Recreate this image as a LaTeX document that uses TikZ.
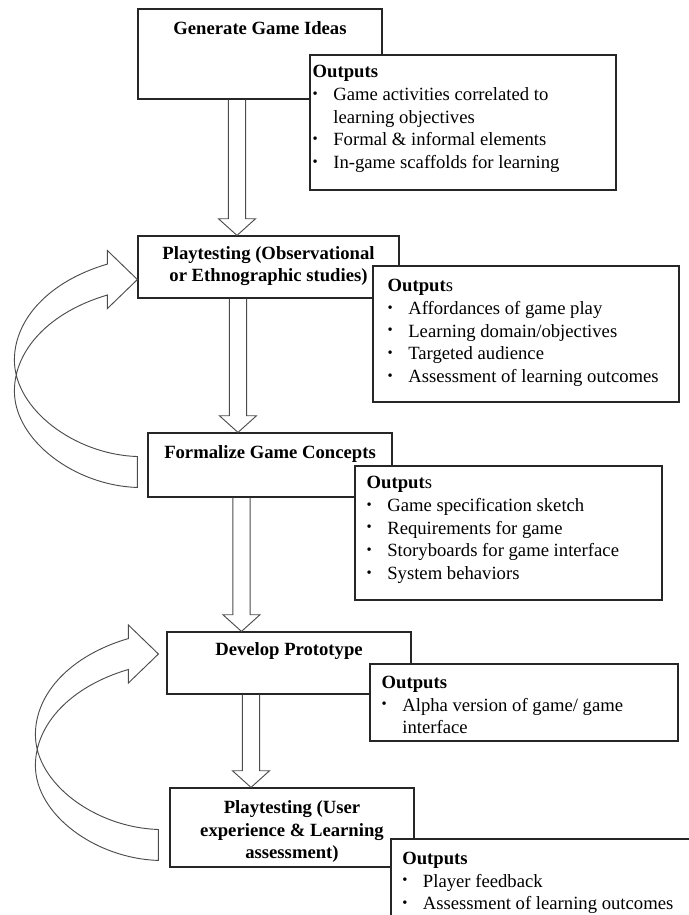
\documentclass[tikz,border=0pt]{standalone}
\usepackage{fontspec}
\setmainfont{Liberation Serif}
\usetikzlibrary{positioning,calc}
\newcommand{\dotitem}{\makebox[15.5pt][l]{\raisebox{1.8pt}{\fontsize{11}{11}\selectfont\textbullet}}}
\newcommand{\hangitem}{\hspace*{15.5pt}}

\begin{document}
\begin{tikzpicture}[x=0.75pt,y=-0.75pt,
		stage/.style={draw=black!85, line width=0.9pt, inner sep=0pt},
		outbox/.style={draw=black!85, line width=0.9pt, fill=white, inner sep=0pt},
		title/.style={inner sep=0pt, align=center, font=\fontsize{14}{17}\selectfont\bfseries},
		list/.style={inner sep=0pt, anchor=base west, font=\fontsize{14}{17}\selectfont},
		blockarrow/.style={draw=black!70, line width=0.7pt,
			to path={let \p1=(\tikztostart), \p2=(\tikztotarget) in
				(\x1-6.5pt,\y1) -- (\x1-6.5pt,\y2+12.5pt) -- (\x1-13.9pt,\y2+12.5pt) -- (\x1,\y2)
				-- (\x1+13.9pt,\y2+12.5pt) -- (\x1+6.5pt,\y2+12.5pt) -- (\x1+6.5pt,\y1)}},
		loopback/.style={draw=black!70, line width=0.7pt,
			to path={let \p1=(\tikztostart), \p2=(\tikztotarget) in
				(\x2-22.5pt,\y2+11.6pt) .. controls (\x2-66pt,\y2-1.1pt) and (\x2-92.25pt,\y2-29.6pt) .. (\x2-92.25pt,\y2-60.4pt)
				.. controls (\x2-92.25pt,\y2-97.1pt) and (\x1-47.25pt,\y1+13.1pt) .. (\x1,\y1+11.6pt)
				-- (\x1,\y1-11.6pt)
				.. controls (\x1-47.25pt,\y1-10.15pt) and (\x2-92.25pt,\y2-120.35pt) .. (\x2-92.25pt,\y2-83.65pt)
				.. controls (\x2-92.25pt,\y2-52.85pt) and (\x2-66pt,\y2-24.35pt) .. (\x2-22.5pt,\y2-11.6pt)
				-- (\x2-22.5pt,\y2-21.75pt) -- (\x2,\y2) -- (\x2-22.5pt,\y2+21.75pt) -- cycle}}]
		\useasboundingbox (0,0) rectangle (689,915);
		\clip (0,0) rectangle (689,915);
		%\draw [help lines, step=50] (0,0) grid (689,915);
		%Stages
		\node [stage, minimum width=183pt, minimum height=67.5pt] (G) at (260,54) {};
		\node [title, below=9.6pt of G.north] (Gt) {Generate Game Ideas};
		\node [stage, minimum width=195.75pt, minimum height=46.5pt] (P1) at (268.5,267) {};
		\node [title, below=7.9pt of P1.north] (P1t) {Playtesting (Observational\\or Ethnographic studies)};
		\node [stage, minimum width=183pt, minimum height=48pt] (F) at (270,465) {};
		\node [title, below=9.6pt of F.north] (Ft) {Formalize Game Concepts};
		\node [stage, minimum width=183pt, minimum height=46.5pt] (D) at (289,663) {};
		\node [title, below=8.2pt of D.north] (Dt) {Develop Prototype};
		\node [stage, minimum width=183pt, minimum height=59.25pt] (P2) at (292,827.5) {};
		\node [title, below=9.6pt of P2.north] (P2t) {Playtesting (User\\experience \& Learning\\assessment)};
		%Arrows
		\draw [blockarrow] ([xshift=-17.25pt]G.south) to (P1.north);
		\draw [blockarrow] ([xshift=-22.9pt]P1.south) to (F.north);
		\draw [blockarrow] ([xshift=-21.4pt]F.south) to (D.north);
		\draw [blockarrow] ([xshift=-28.5pt]D.south) to (P2.north);
		%Loops
		\draw [loopback] ([xshift=-7.5pt,yshift=-5.25pt]F.west) to ([yshift=-9.4pt]P1.west);
		\draw [loopback] ([xshift=-8.25pt,yshift=-13.1pt]P2.west) to ([xshift=-6pt,yshift=6.75pt]D.west);
		%Outputs
		\node [outbox, minimum width=229.5pt, minimum height=101.25pt] (O1) at (463,122.5) {};
		\node [list] (O1t) at ([shift={(3,23.5)}]O1.north west) {\begin{tabular}[t]{@{}l@{}}
			\textbf{Outputs}\\
			\dotitem Game activities correlated to\\
			\hangitem learning objectives\\
			\dotitem Formal \& informal elements\\
			\dotitem In-game scaffolds for learning
		\end{tabular}};
		\node [outbox, minimum width=229.5pt, minimum height=102pt] (O2) at (526,334) {};
		\node [list] (O2t) at ([shift={(15,26.5)}]O2.north west) {\begin{tabular}[t]{@{}l@{}}
			\textbf{Output}s\\
			\dotitem Affordances of game play\\
			\dotitem Learning domain/objectives\\
			\dotitem Targeted audience\\
			\dotitem Assessment of learning outcomes
		\end{tabular}};
		\node [outbox, minimum width=230.25pt, minimum height=100.5pt] (O3) at (508.5,533) {};
		\node [list] (O3t) at ([shift={(12,23.5)}]O3.north west) {\begin{tabular}[t]{@{}l@{}}
			\textbf{Output}s\\
			\dotitem Game specification sketch\\
			\dotitem Requirements for game\\
			\dotitem Storyboards for game interface\\
			\dotitem System behaviors
		\end{tabular}};
		\node [outbox, minimum width=231pt, minimum height=57.75pt] (O4) at (524,702.5) {};
		\node [list] (O4t) at ([shift={(12,25)}]O4.north west) {\begin{tabular}[t]{@{}l@{}}
			\textbf{Outputs}\\
			\dotitem Alpha version of game/ game\\
			\hangitem interface
		\end{tabular}};
		\node [outbox, minimum width=231.75pt, minimum height=60pt] (O5) at (545.5,879) {};
		\node [list] (O5t) at ([shift={(11.6,26)}]O5.north west) {\begin{tabular}[t]{@{}l@{}}
			\textbf{Outputs}\\
			\dotitem Player feedback\\
			\dotitem Assessment of learning outcomes
		\end{tabular}};
	\end{tikzpicture}
\end{document}
